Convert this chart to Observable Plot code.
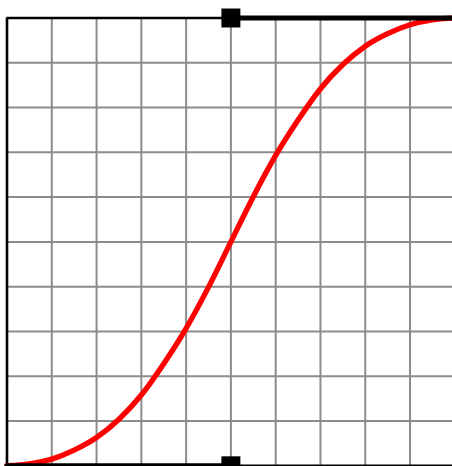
<!DOCTYPE html>
<html>
<head>
<meta charset="utf-8">
<script src="https://cdn.jsdelivr.net/npm/d3@7"></script>
<script src="https://cdn.jsdelivr.net/npm/@observablehq/plot@0.6"></script>
<style>
  html, body { margin: 0; padding: 0; background: #fff; overflow: hidden; }
  #chart svg { display: block; }
</style>
</head>
<body>
<div id="chart"></div>
<script>
// Curve points (x = progress of time, y = progress of value)
const curveX = [0, 0.05, 0.10, 0.15, 0.20, 0.25, 0.30, 0.35, 0.40, 0.45, 0.50, 0.55, 0.60, 0.65, 0.70, 0.75, 0.80, 0.85, 0.90, 0.95, 1];
const curveY = [0, 0.004, 0.015, 0.035, 0.063, 0.104, 0.158, 0.228, 0.307, 0.399, 0.5, 0.601, 0.693, 0.772, 0.842, 0.896, 0.937, 0.965, 0.985, 0.996, 1];

// Control handles: start point -> first control point, second control point -> end point
const handleBottomX = [0, 0.5];
const handleBottomY = [0, 0];
const handleTopX = [0.5, 1];
const handleTopY = [1, 1];
const controlX = [0.5, 0.5];
const controlY = [0, 1];

// Grid lines and border positions
const gridTicks = [0.1, 0.2, 0.3, 0.4, 0.5, 0.6, 0.7, 0.8, 0.9];
const borders = [0, 1];

const curve = curveX.map((x, i) => ({x, y: curveY[i]}));
const bottomHandle = handleBottomX.map((x, i) => ({x, y: handleBottomY[i]}));
const topHandle = handleTopX.map((x, i) => ({x, y: handleTopY[i]}));
const controls = controlX.map((x, i) => ({x, y: controlY[i]}));

const chart = Plot.plot({
  width: 452,
  height: 466,
  style: {background: "white", overflow: "visible"},
  x: {domain: [0, 1], range: [6.5, 454.3], axis: null},
  y: {domain: [0, 1], range: [465.3, 17.5], axis: null},
  marks: [
    Plot.ruleX(gridTicks, {x: d => d, y1: 0, y2: 1, stroke: "#8c8c8c", strokeWidth: 2}),
    Plot.ruleY(gridTicks, {y: d => d, x1: 0, x2: 1, stroke: "#8c8c8c", strokeWidth: 2}),
    Plot.ruleX(borders, {x: d => d, y1: 0, y2: 1, stroke: "black", strokeWidth: 2.6}),
    Plot.ruleY(borders, {y: d => d, x1: 0, x2: 1, stroke: "black", strokeWidth: 2.6}),
    Plot.line(curve, {x: "x", y: "y", stroke: "#ff0000", strokeWidth: 5.4, curve: "monotone-x"}),
    Plot.line(bottomHandle, {x: "x", y: "y", stroke: "black", strokeWidth: 5.2}),
    Plot.line(topHandle, {x: "x", y: "y", stroke: "black", strokeWidth: 5.2}),
    Plot.dot(controls, {x: "x", y: "y", symbol: "square", r: 10.7, fill: "black", stroke: "none"})
  ]
});
document.getElementById("chart").appendChild(chart);
</script>
</body>
</html>
